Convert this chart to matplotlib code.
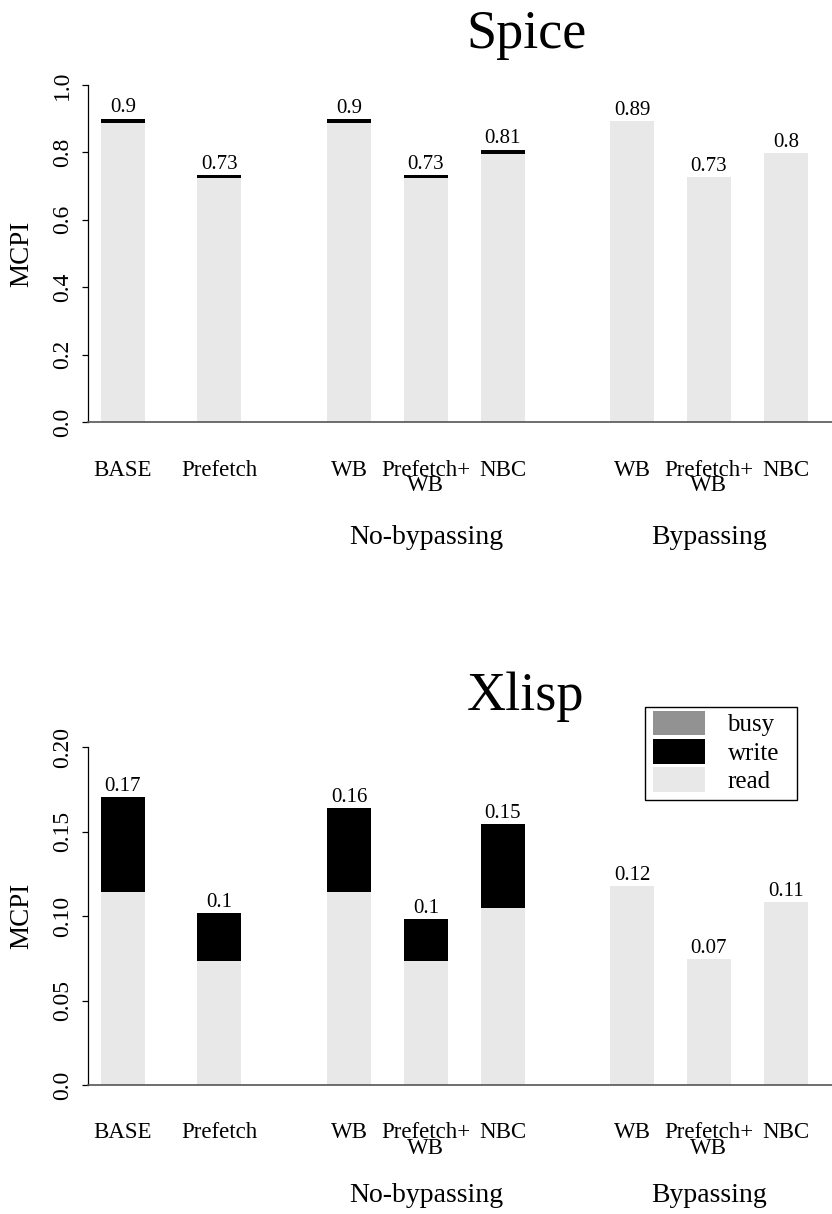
import matplotlib
matplotlib.use("Agg")
import numpy as np
from matplotlib import pyplot
from matplotlib.patches import Patch, Rectangle

pyplot.rcParams['font.family'] = ['Liberation Serif', 'DejaVu Serif']

# bar labels and group labels
categories = ["BASE", "Prefetch", "WB", "Prefetch+\nWB", "NBC", "WB", "Prefetch+\nWB", "NBC"]
groups = ["No-bypassing", "Bypassing"]
group_members = [[2, 3, 4], [5, 6, 7]]

# Spice: MCPI components
spice_read = [0.888, 0.724, 0.887, 0.724, 0.796, 0.893, 0.727, 0.797]
spice_write = [0.012, 0.008, 0.012, 0.008, 0.012, 0.0, 0.0, 0.0]
spice_busy = [0.0, 0.0, 0.0, 0.0, 0.0, 0.0, 0.0, 0.0]

# Xlisp: MCPI components
xlisp_read = [0.114, 0.0734, 0.1142, 0.0734, 0.1047, 0.1178, 0.0745, 0.1083]
xlisp_write = [0.0564, 0.0284, 0.0498, 0.0248, 0.0498, 0.0, 0.0, 0.0]
xlisp_busy = [0.0, 0.0, 0.0, 0.0, 0.0, 0.0, 0.0, 0.0]

spice_ticks = [0.0, 0.2, 0.4, 0.6, 0.8, 1.0]
spice_ticklabels = ["0.0", "0.2", "0.4", "0.6", "0.8", "1.0"]
xlisp_ticks = [0.0, 0.05, 0.10, 0.15, 0.20]
xlisp_ticklabels = ["0.0", "0.05", "0.10", "0.15", "0.20"]

READ_COLOR = "#e8e8e8"
WRITE_COLOR = "black"
BUSY_COLOR = "#929292"

W, H = 832, 1214
x = np.array([0, 1.25, 2.94, 3.94, 4.94, 6.62, 7.62, 8.62])
bar_width = 0.565


def fmt(v):
    return f"{round(v, 2):g}"


def draw_panel(fig, bottom_px, top_px, ylim, read, write, busy, ticks, ticklabels, title, group_off):
    ax = fig.add_axes([88 / W, 1 - bottom_px / H, 1 - 88 / W, (bottom_px - top_px) / H])
    read = np.array(read)
    write = np.array(write)
    busy = np.array(busy)

    ax.bar(x, read, width=bar_width, color=READ_COLOR, linewidth=0)
    ax.bar(x, write, bottom=read, width=bar_width, color=WRITE_COLOR, linewidth=0)
    ax.bar(x, busy, bottom=read + write, width=bar_width, color=BUSY_COLOR, linewidth=0)

    total = read + write + busy
    for xi, t in zip(x, total):
        ax.annotate(fmt(t), (xi, t), xytext=(0, 4.5), textcoords='offset points',
                    ha='center', va='baseline', fontsize=15)

    ax.set_xlim(-0.455, 9.22)
    ax.set_ylim(*ylim)
    ax.set_yticks(ticks)
    ax.set_yticklabels(ticklabels, rotation=90, va='center', fontsize=17)
    ax.tick_params(axis='y', length=4.5, width=0.9, pad=6)

    ax.set_xticks(x)
    ax.set_xticklabels(categories, fontsize=16.5, linespacing=0.65)
    ax.tick_params(axis='x', length=0, pad=27)

    for s in ['top', 'right']:
        ax.spines[s].set_visible(False)
    ax.spines['left'].set_bounds(ylim[0], ylim[1])
    ax.spines['left'].set_linewidth(0.9)
    ax.spines['bottom'].set_color('#555555')
    ax.spines['bottom'].set_linewidth(1.2)

    for members, name in zip(group_members, groups):
        ax.annotate(name, (x[members].mean(), 0), xycoords=('data', 'axes fraction'),
                    xytext=(0, -group_off * 0.72), textcoords='offset points',
                    ha='center', va='center', fontsize=20)

    ax.set_ylabel("MCPI", fontsize=19.5)
    ax.yaxis.set_label_coords(-54 / 744, 0.5)

    fig.text(526 / W, 1 - (top_px - 37) / H, title, ha='center', va='baseline', fontsize=39)
    return ax


fig = pyplot.figure(figsize=(W / 100, H / 100), dpi=100)

draw_panel(fig, 422, 85, (0, 1.0), spice_read, spice_write, spice_busy,
           spice_ticks, spice_ticklabels, "Spice", 115)
ax2 = draw_panel(fig, 1085, 747, (0, 0.2), xlisp_read, xlisp_write, xlisp_busy,
                 xlisp_ticks, xlisp_ticklabels, "Xlisp", 110)

handles = [Patch(facecolor=BUSY_COLOR, linewidth=0, label="busy"),
           Patch(facecolor=WRITE_COLOR, linewidth=0, label="write"),
           Patch(facecolor=READ_COLOR, linewidth=0, label="read")]
ax2.legend(handles=handles, loc='upper left', bbox_to_anchor=(645 / W, 1 - 703 / H),
           bbox_transform=fig.transFigure, borderaxespad=0, frameon=False,
           fontsize=18, handlelength=2.1, handleheight=1.15, handletextpad=0.9,
           labelspacing=0.1, borderpad=0.3)
# legend frame, a bit wider than the entries as in the original
fig.add_artist(Rectangle((645 / W, 1 - 800 / H), 152 / W, 93 / H, transform=fig.transFigure,
                         fill=False, edgecolor='black', linewidth=1.0))

fig.savefig("out.png", dpi=100)
